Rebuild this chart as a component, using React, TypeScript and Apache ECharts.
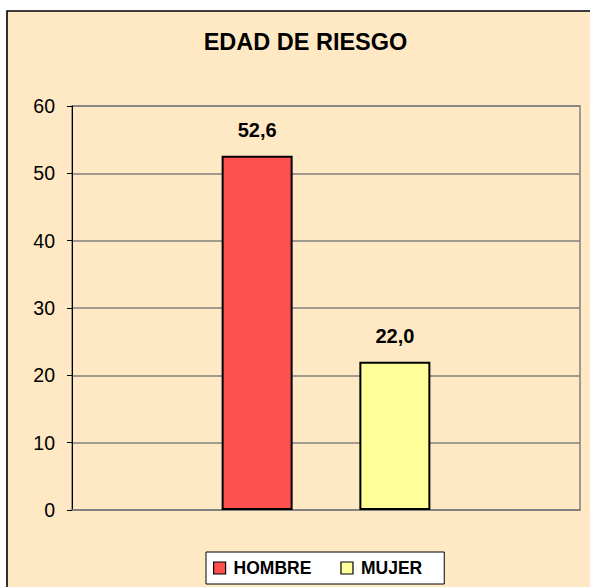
import React, { useEffect, useRef } from "react";
import * as echarts from "echarts";

const categories = ["EDAD DE RIESGO"];
const titleText = "EDAD DE RIESGO";
const seriesNames = ["HOMBRE", "MUJER"];
const hombreValues = [52.6];
const mujerValues = [22.0];
const yTicks = { min: 0, max: 60, interval: 10 };

export default function App() {
  const ref = useRef<HTMLDivElement>(null);
  useEffect(() => {
    const chart = echarts.init(ref.current!, null, { renderer: "svg" });
    const font = "Arial, 'Liberation Sans', sans-serif";
    const labelFmt = (p: any) => Number(p.value).toFixed(1).replace(".", ",");
    const barLabel = {
      show: true,
      position: "top",
      distance: 16,
      formatter: labelFmt,
      fontFamily: font,
      fontSize: 20,
      fontWeight: "bold",
      color: "#000",
    };
    chart.setOption({
      animation: false,
      backgroundColor: "#ffffff",
      graphic: [
        {
          type: "rect",
          z: -10,
          silent: true,
          shape: { x: 7, y: 11, width: 620, height: 620 },
          style: { fill: "#FFE9C4", stroke: "#000000", lineWidth: 1.6 },
        },
        {
          type: "text",
          z: 10,
          silent: true,
          x: 305.5,
          y: 42,
          style: {
            text: titleText,
            fontFamily: font,
            fontSize: 23.5,
            fontWeight: "bold",
            fill: "#000",
            align: "center",
            verticalAlign: "middle",
          },
        },
      ],
      grid: {
        left: 72,
        top: 106,
        right: 10,
        bottom: 77,
        show: true,
        borderColor: "#808080",
        borderWidth: 1.5,
        backgroundColor: "transparent",
      },
      legend: {
        data: seriesNames,
        left: 206,
        top: 552,
        padding: [7, 22, 7, 7],
        itemGap: 29,
        itemWidth: 12,
        itemHeight: 12,
        icon: "rect",
        backgroundColor: "#ffffff",
        borderColor: "#000000",
        borderWidth: 1,
        borderRadius: 0,
        itemStyle: { borderColor: "#000", borderWidth: 1.2 },
        textStyle: {
          fontFamily: font,
          fontSize: 17.5,
          fontWeight: "bold",
          color: "#000",
          padding: [0, 0, 0, 3],
        },
      },
      xAxis: {
        type: "category",
        data: categories,
        axisLine: { show: true, lineStyle: { color: "#808080", width: 1.5 } },
        axisTick: { show: false },
        axisLabel: { show: false },
      },
      yAxis: {
        type: "value",
        min: yTicks.min,
        max: yTicks.max,
        interval: yTicks.interval,
        axisLine: { show: true, lineStyle: { color: "#000000", width: 1 } },
        axisTick: { show: true, length: 5, lineStyle: { color: "#000" } },
        axisLabel: { margin: 17, fontFamily: font, fontSize: 19.5, color: "#000" },
        splitLine: { show: true, lineStyle: { color: "#808080", width: 1.5 } },
      },
      series: [
        {
          name: seriesNames[0],
          type: "bar",
          data: hombreValues,
          barWidth: 71,
          barGap: "94%",
          itemStyle: { color: "#FF5050", borderColor: "#000", borderWidth: 2 },
          label: barLabel,
        },
        {
          name: seriesNames[1],
          type: "bar",
          data: mujerValues,
          barWidth: 71,
          itemStyle: { color: "#FFFF99", borderColor: "#000", borderWidth: 2 },
          label: barLabel,
        },
      ],
    });
    return () => chart.dispose();
  }, []);
  return (
    <div
      ref={ref}
      style={{ position: "fixed", left: 0, top: 0, width: 590, height: 587 }}
    />
  );
}
